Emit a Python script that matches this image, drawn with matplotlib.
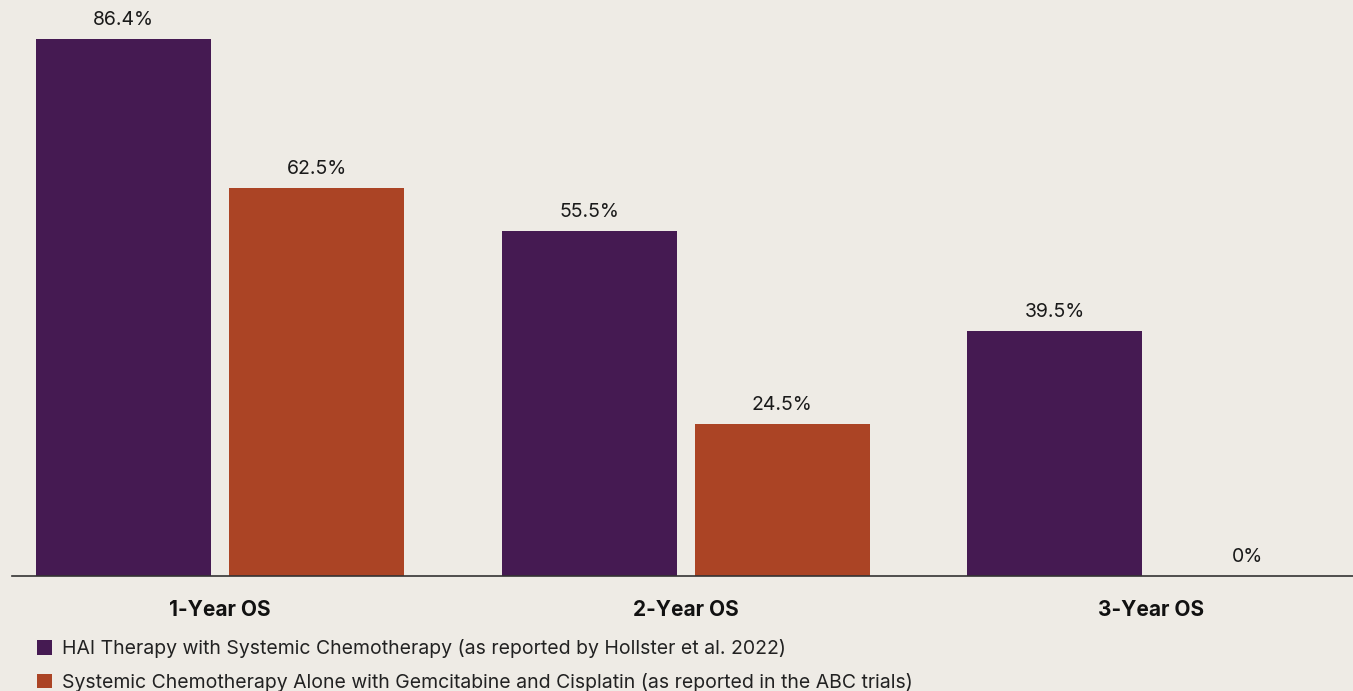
import numpy as np
import matplotlib.pyplot as plt

# Overall survival data
categories = ['1-Year OS', '2-Year OS', '3-Year OS']
hai_values = [86.4, 55.5, 39.5]
chemo_values = [62.5, 24.5, 0]
series_labels = [
    'HAI Therapy with Systemic Chemotherapy (as reported by Hollster et al. 2022)',
    'Systemic Chemotherapy Alone with Gemcitabine and Cisplatin (as reported in the ABC trials)',
]

bg = '#EEEBE5'
purple = '#451A52'
orange = '#AB4425'

fig = plt.figure(figsize=(13.53, 6.91), dpi=100, facecolor=bg)
ax = fig.add_axes([12 / 1353, 115 / 691, 1 - 12 / 1353, 576 / 691])
ax.set_facecolor(bg)

x = np.arange(len(categories))
width = 0.376
offset = 0.2073

b1 = ax.bar(x - offset, hai_values, width, color=purple, label=series_labels[0])
b2 = ax.bar(x + offset, chemo_values, width, color=orange, label=series_labels[1])

# value labels above bars
for bars, vals in [(b1, hai_values), (b2, chemo_values)]:
    for rect, v in zip(bars, vals):
        ax.annotate(f'{v:g}%', (rect.get_x() + rect.get_width() / 2, v),
                    xytext=(0, 7), textcoords='offset points',
                    ha='center', va='bottom', fontsize=14,
                    family='Inter', color='#1a1a1a')

ax.set_xlim(-0.447, 2.434)
ax.set_ylim(0, 92.7)
ax.set_yticks([])
ax.set_xticks(x)
ax.set_xticklabels(categories, fontsize=15, fontweight='bold', family='Inter', color='#111111')
ax.tick_params(axis='x', length=0, pad=17)
for s in ['top', 'right', 'left']:
    ax.spines[s].set_visible(False)
ax.spines['bottom'].set_color('#333333')
ax.spines['bottom'].set_linewidth(1.2)

fig.legend(handles=[b1, b2], loc='upper left', bbox_to_anchor=(19 / 1353, 1 - 622 / 691),
           frameon=False, prop={'family': 'Inter', 'size': 14},
           handlelength=0.78, handleheight=0.78, handletextpad=0.55, labelspacing=0.74,
           labelcolor='#222222')

fig.savefig('out.png', dpi=100, facecolor=bg)
